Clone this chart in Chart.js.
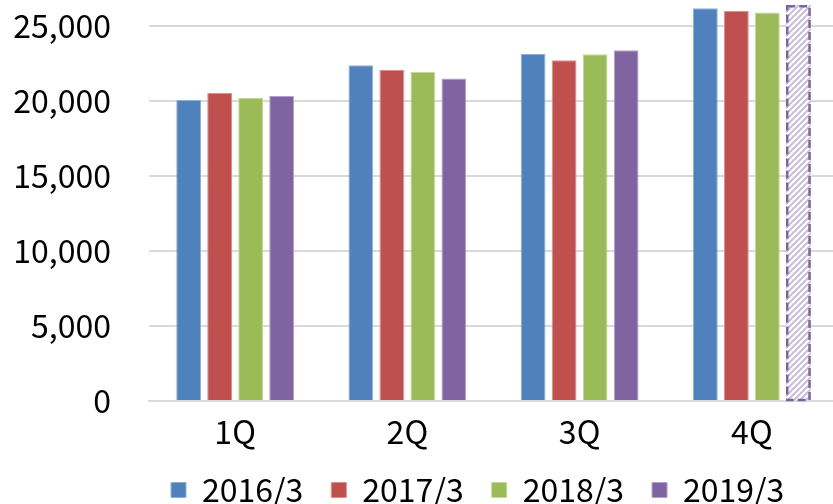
<!DOCTYPE html>
<html>
<head>
<meta charset="utf-8">
<script src="https://cdn.jsdelivr.net/npm/chart.js@4"></script>
<style>
  html, body { margin: 0; padding: 0; background: #fff; overflow: hidden; }
  #wrap { width: 833px; height: 504px; overflow: hidden; }
</style>
</head>
<body>
<div id="wrap"><canvas id="c" width="838" height="504"></canvas></div>
<script>
const categories = ['1Q', '2Q', '3Q', '4Q'];
const seriesNames = ['2016/3', '2017/3', '2018/3', '2019/3'];
const s2016 = [20070, 22380, 23130, 26180];
const s2017 = [20530, 22070, 22710, 26000];
const s2018 = [20220, 21930, 23110, 25890];
const s2019 = [20330, 21490, 23380, 26400];
const yTicks = [0, 5000, 10000, 15000, 20000, 25000];
const colors = ['#4f81bd', '#c0504d', '#9bbb59', '#8064a2'];
const edgeColors = ['#8fb0d9', '#e08f8d', '#c4d99a', '#b3a2cc'];

const FONT = '"Noto Sans CJK JP", "Noto Sans", sans-serif';

function makeHatch() {
  const s = 6;
  const cv = document.createElement('canvas');
  cv.width = s; cv.height = s;
  const g = cv.getContext('2d');
  g.fillStyle = '#ffffff';
  g.fillRect(0, 0, s, s);
  g.strokeStyle = '#c8bcdc';
  g.lineWidth = 2;
  g.beginPath();
  g.moveTo(-1, s + 1); g.lineTo(s + 1, -1);
  g.moveTo(-1, 1); g.lineTo(1, -1);
  g.moveTo(s - 1, s + 1); g.lineTo(s + 1, s - 1);
  g.stroke();
  return g.createPattern(cv, 'repeat');
}
const hatch = makeHatch();

const allSeries = [s2016, s2017, s2018, s2019];
const datasets = allSeries.map((vals, i) => {
  const ds = {
    label: seriesNames[i],
    data: vals,
    backgroundColor: colors[i],
    borderColor: edgeColors[i],
    borderWidth: 1,
    categoryPercentage: 0.72,
    barPercentage: 0.8
  };
  if (i === 3) {
    ds.backgroundColor = vals.map((v, j) => j === 3 ? hatch : colors[3]);
    ds.borderWidth = vals.map((v, j) => j === 3 ? 0 : 1);
  }
  return ds;
});

const LEG_PAD = 28;
const X_PAD = 11.5;
const X_H = X_PAD + 38.4;
const LEG_H = 504 - 401 - X_H;

const dashedBar = {
  id: 'dashedBar',
  afterDatasetsDraw(chart) {
    const meta = chart.getDatasetMeta(3);
    const el = meta.data[3];
    if (!el) return;
    const p = el.getProps(['x', 'y', 'base', 'width'], true);
    const ctx = chart.ctx;
    const lw = 2.5;
    ctx.save();
    ctx.setLineDash([8, 4]);
    ctx.lineWidth = lw;
    ctx.strokeStyle = '#8064a2';
    ctx.strokeRect(p.x - p.width / 2 + lw / 2, p.y + lw / 2, p.width - lw, p.base - p.y - lw / 2);
    ctx.restore();
  }
};

const legendPlace = {
  id: 'legendPlace',
  afterLayout(chart) {
    const lg = chart.legend;
    if (!lg) return;
    const w = lg.width;
    lg.left = 171 - LEG_PAD;
    lg.right = lg.left + w;
    lg.top = 490 - 16 - LEG_PAD;
    lg.bottom = 530;
  }
};

const chart = new Chart(document.getElementById('c'), {
  type: 'bar',
  data: { labels: categories, datasets: datasets },
  plugins: [dashedBar, legendPlace],
  options: {
    responsive: false,
    animation: false,
    devicePixelRatio: 1,
    layout: { padding: 0 },
    plugins: {
      tooltip: { enabled: false },
      legend: {
        position: 'bottom',
        align: 'start',
        labels: {
          boxWidth: 15,
          boxHeight: 15,
          padding: LEG_PAD,
          color: '#000',
          font: { family: FONT, size: 32 }
        }
      }
    },
    scales: {
      x: {
        grid: { display: false, drawTicks: false },
        border: { display: true, color: '#d9d9d9', width: 2 },
        ticks: { color: '#000', padding: X_PAD, font: { family: FONT, size: 32 } },
        afterFit(scale) { scale.height = X_H; }
      },
      y: {
        min: 0,
        max: 26730,
        grid: { color: '#d9d9d9', lineWidth: 2, drawTicks: false },
        border: { display: false },
        afterBuildTicks(scale) {
          scale.ticks = yTicks.map(v => ({ value: v }));
        },
        afterFit(scale) {
          scale.width = 149;
          scale.paddingTop = 0;
          scale.paddingBottom = 0;
        },
        ticks: {
          color: '#000',
          padding: 38,
          font: { family: FONT, size: 32 },
          callback: (v) => v.toLocaleString('en-US')
        }
      }
    }
  }
});

const lg = chart.legend;
const origFit = lg.fit.bind(lg);
lg.fit = function () { origFit(); this.height = LEG_H; };
chart.update();
</script>
</body>
</html>
